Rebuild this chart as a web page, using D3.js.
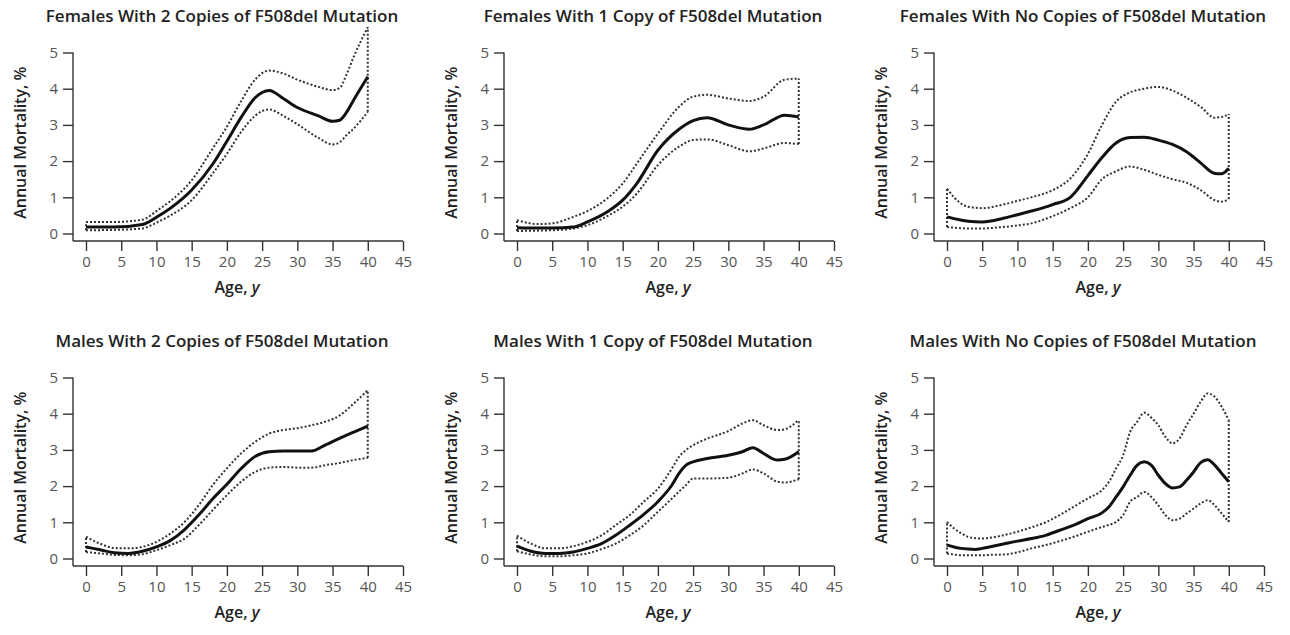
<!DOCTYPE html>
<html>
<head>
<meta charset="utf-8">
<script src="https://cdn.jsdelivr.net/npm/d3@7"></script>
<style>
  body { margin: 0; background: #fff; }
  svg { display: block; }
  .tick-label { font-family: "Open Sans", sans-serif; font-size: 15px; fill: #555; }
  .title { font-family: "Open Sans", sans-serif; font-size: 17px; font-weight: 600; fill: #222; }
  .axis-title { font-family: "Open Sans", sans-serif; font-size: 16px; font-weight: 600; fill: #222; }
</style>
</head>
<body>
<script>
// panel titles
const titles = [
    "Females With 2 Copies of F508del Mutation",
    "Females With 1 Copy of F508del Mutation",
    "Females With No Copies of F508del Mutation",
    "Males With 2 Copies of F508del Mutation",
    "Males With 1 Copy of F508del Mutation",
    "Males With No Copies of F508del Mutation"
];
const xTicks = [0, 5, 10, 15, 20, 25, 30, 35, 40, 45];
const yTicks = [0, 1, 2, 3, 4, 5];

// females, 2 copies
const f2Age   = [0, 4, 8, 10, 12, 15, 18, 20, 22, 24, 26, 28, 30, 33, 35, 36, 37, 38, 40];
const f2Mean  = [0.18, 0.18, 0.25, 0.45, 0.7, 1.2, 1.92, 2.55, 3.2, 3.75, 3.95, 3.73, 3.48, 3.25, 3.1, 3.13, 3.35, 3.69, 4.33];
const f2Upper = [0.32, 0.32, 0.38, 0.62, 0.9, 1.47, 2.35, 2.95, 3.65, 4.25, 4.5, 4.42, 4.25, 4.05, 3.96, 4.02, 4.4, 4.88, 5.7];
const f2Lower = [0.09, 0.1, 0.14, 0.3, 0.5, 0.92, 1.66, 2.2, 2.8, 3.25, 3.43, 3.25, 3.02, 2.64, 2.46, 2.52, 2.72, 2.9, 3.36];

// females, 1 copy
const f1Age   = [0, 3, 5, 8, 10, 13, 15, 17, 20, 23, 25, 27, 30, 33, 35, 38, 40];
const f1Mean  = [0.16, 0.15, 0.15, 0.18, 0.32, 0.62, 0.92, 1.38, 2.3, 2.88, 3.12, 3.2, 3.0, 2.88, 3.0, 3.27, 3.22];
const f1Upper = [0.37, 0.26, 0.28, 0.46, 0.62, 1.0, 1.38, 1.93, 2.76, 3.5, 3.78, 3.83, 3.73, 3.66, 3.78, 4.25, 4.28];
const f1Lower = [0.07, 0.08, 0.09, 0.14, 0.23, 0.5, 0.74, 1.1, 1.89, 2.4, 2.58, 2.6, 2.44, 2.27, 2.35, 2.5, 2.47];

// females, no copies
const f0Age   = [0, 1, 3, 5, 8, 10, 12, 15, 17.5, 20, 22, 24, 26, 28, 30, 32, 34, 36, 38, 39, 40];
const f0Mean  = [0.46, 0.41, 0.34, 0.32, 0.42, 0.52, 0.62, 0.8, 1.0, 1.6, 2.1, 2.5, 2.65, 2.66, 2.58, 2.46, 2.26, 1.95, 1.66, 1.65, 1.8];
const f0Upper = [1.24, 1.0, 0.74, 0.7, 0.8, 0.9, 1.0, 1.2, 1.52, 2.2, 3.0, 3.64, 3.9, 4.0, 4.05, 3.95, 3.75, 3.5, 3.2, 3.22, 3.3];
const f0Lower = [0.18, 0.16, 0.14, 0.14, 0.18, 0.22, 0.28, 0.48, 0.7, 1.0, 1.5, 1.72, 1.85, 1.76, 1.62, 1.5, 1.4, 1.2, 0.92, 0.88, 0.95];

// males, 2 copies
const m2Age   = [0, 2, 4, 6, 8, 10, 12, 14, 16, 18, 20, 22, 24, 26, 28, 30, 32, 34, 36, 38, 40];
const m2Mean  = [0.32, 0.24, 0.16, 0.14, 0.2, 0.32, 0.5, 0.8, 1.2, 1.65, 2.05, 2.48, 2.82, 2.95, 2.97, 2.97, 2.97, 3.14, 3.32, 3.49, 3.66];
const m2Upper = [0.6, 0.41, 0.29, 0.28, 0.32, 0.46, 0.69, 1.01, 1.47, 2.03, 2.49, 2.9, 3.22, 3.45, 3.55, 3.6, 3.68, 3.78, 3.95, 4.28, 4.65];
const m2Lower = [0.18, 0.14, 0.1, 0.09, 0.12, 0.23, 0.37, 0.55, 0.92, 1.34, 1.75, 2.12, 2.39, 2.51, 2.53, 2.51, 2.51, 2.58, 2.64, 2.72, 2.78];

// males, 1 copy
const m1Age   = [0, 2, 4, 6, 8, 10, 12, 14, 16, 18, 20, 22, 23, 24, 25, 27, 30, 32, 33.5, 35, 37, 38, 40];
const m1Mean  = [0.34, 0.2, 0.14, 0.14, 0.18, 0.28, 0.41, 0.64, 0.92, 1.22, 1.57, 2.03, 2.35, 2.58, 2.67, 2.76, 2.85, 2.95, 3.06, 2.9, 2.72, 2.74, 2.95];
const m1Upper = [0.63, 0.41, 0.28, 0.28, 0.34, 0.46, 0.64, 0.92, 1.2, 1.57, 1.93, 2.49, 2.81, 3.0, 3.13, 3.31, 3.52, 3.73, 3.82, 3.68, 3.55, 3.57, 3.84];
const m1Lower = [0.2, 0.11, 0.06, 0.06, 0.09, 0.14, 0.26, 0.41, 0.64, 0.92, 1.29, 1.66, 1.85, 2.03, 2.21, 2.21, 2.23, 2.35, 2.46, 2.35, 2.12, 2.1, 2.19];

// males, no copies
const m0Age   = [0, 1, 2, 3, 4, 5, 6, 8, 10, 12, 14, 16, 18, 20, 22, 23, 24, 25, 26, 27, 28, 29, 30, 31, 32, 33, 34, 35, 36, 37, 38, 39, 40];
const m0Mean  = [0.37, 0.32, 0.28, 0.26, 0.25, 0.28, 0.32, 0.4, 0.48, 0.55, 0.64, 0.78, 0.92, 1.1, 1.26, 1.43, 1.7, 1.98, 2.3, 2.58, 2.67, 2.58, 2.3, 2.07, 1.95, 1.98, 2.16, 2.39, 2.65, 2.73, 2.58, 2.35, 2.12];
const m0Upper = [1.01, 0.83, 0.7, 0.6, 0.56, 0.55, 0.57, 0.64, 0.74, 0.86, 1.0, 1.2, 1.43, 1.66, 1.89, 2.12, 2.49, 2.85, 3.5, 3.78, 4.03, 3.89, 3.68, 3.36, 3.18, 3.31, 3.68, 4.0, 4.33, 4.56, 4.47, 4.19, 3.82];
const m0Lower = [0.14, 0.11, 0.09, 0.09, 0.09, 0.09, 0.1, 0.11, 0.17, 0.28, 0.37, 0.48, 0.6, 0.74, 0.87, 0.93, 1.01, 1.2, 1.57, 1.7, 1.84, 1.7, 1.47, 1.2, 1.06, 1.1, 1.24, 1.38, 1.52, 1.61, 1.47, 1.24, 1.01];

const panels = [
    { age: f2Age, mean: f2Mean, upper: f2Upper, lower: f2Lower },
    { age: f1Age, mean: f1Mean, upper: f1Upper, lower: f1Lower },
    { age: f0Age, mean: f0Mean, upper: f0Upper, lower: f0Lower },
    { age: m2Age, mean: m2Mean, upper: m2Upper, lower: m2Lower },
    { age: m1Age, mean: m1Mean, upper: m1Upper, lower: m1Lower },
    { age: m0Age, mean: m0Mean, upper: m0Upper, lower: m0Lower }
];

let width = 1290,
    height = 635;

let svg = d3.select("body")
    .append("svg")
    .attr("width", width)
    .attr("height", height);

const colOffsets = [0, 431, 861],
      rowOffsets = [0, 325];

panels.forEach(function(p, i) {
    let ox = colOffsets[i % 3],
        oy = rowOffsets[Math.floor(i / 3)];

    let x = d3.scaleLinear().domain([0, 45]).range([ox + 86, ox + 403]);
    let y = d3.scaleLinear().domain([0, 5]).range([oy + 233.5, oy + 52.5]);

    let axisX = x(0) - 13,   // y axis sits left of age 0
        axisY = y(0) + 7.5;  // x axis sits below 0%

    let g = svg.append("g");

    // title
    g.append("text")
        .attr("class", "title")
        .attr("x", ox + 222)
        .attr("y", oy + 22)
        .attr("text-anchor", "middle")
        .text(titles[i]);

    // axis lines
    g.append("line")
        .attr("x1", axisX).attr("x2", axisX)
        .attr("y1", y(5)).attr("y2", axisY)
        .attr("stroke", "#333").attr("stroke-width", 1.4);
    g.append("line")
        .attr("x1", axisX).attr("x2", x(45))
        .attr("y1", axisY).attr("y2", axisY)
        .attr("stroke", "#333").attr("stroke-width", 1.4);

    // y ticks
    let yAxis = g.append("g")
        .attr("transform", `translate(${axisX},0)`)
        .call(d3.axisLeft(y).tickValues(yTicks).tickFormat(d3.format("d")).tickSize(10).tickPadding(5));
    yAxis.select(".domain").remove();
    yAxis.selectAll(".tick line").attr("stroke", "#333").attr("stroke-width", 1.4);
    yAxis.selectAll(".tick text").attr("class", "tick-label").attr("fill", null);

    // x ticks
    let xAxis = g.append("g")
        .attr("transform", `translate(0,${axisY})`)
        .call(d3.axisBottom(x).tickValues(xTicks).tickFormat(d3.format("d")).tickSize(10).tickPadding(5));
    xAxis.select(".domain").remove();
    xAxis.selectAll(".tick line").attr("stroke", "#333").attr("stroke-width", 1.4);
    xAxis.selectAll(".tick text").attr("class", "tick-label").attr("fill", null);

    // axis titles
    g.append("text")
        .attr("class", "axis-title")
        .attr("transform", `translate(${ox + 26},${(y(5) + axisY) / 2 - 4}) rotate(-90)`)
        .attr("text-anchor", "middle")
        .text("Annual Mortality, %");

    let xt = g.append("text")
        .attr("class", "axis-title")
        .attr("x", ox + 237)
        .attr("y", oy + 293)
        .attr("text-anchor", "middle");
    xt.append("tspan").text("Age, ");
    xt.append("tspan").attr("font-style", "italic").text("y");

    // confidence band outline: upper, lower and the vertical closing lines
    let line = d3.line()
        .x(d => x(d[0]))
        .y(d => y(d[1]))
        .curve(d3.curveMonotoneX);

    let upperPts = p.age.map((a, k) => [a, p.upper[k]]);
    let lowerPts = p.age.map((a, k) => [a, p.lower[k]]);
    let meanPts = p.age.map((a, k) => [a, p.mean[k]]);
    let last = p.age.length - 1;

    let dotted = [upperPts, lowerPts,
        [[p.age[0], p.lower[0]], [p.age[0], p.upper[0]]],
        [[p.age[last], p.lower[last]], [p.age[last], p.upper[last]]]];

    dotted.forEach(function(pts) {
        g.append("path")
            .attr("d", line(pts))
            .attr("fill", "none")
            .attr("stroke", "#333")
            .attr("stroke-width", 2)
            .attr("stroke-dasharray", "2,2");
    });

    g.append("path")
        .attr("d", line(meanPts))
        .attr("fill", "none")
        .attr("stroke", "#111")
        .attr("stroke-width", 3)
        .attr("stroke-linejoin", "round");
});
</script>
</body>
</html>
